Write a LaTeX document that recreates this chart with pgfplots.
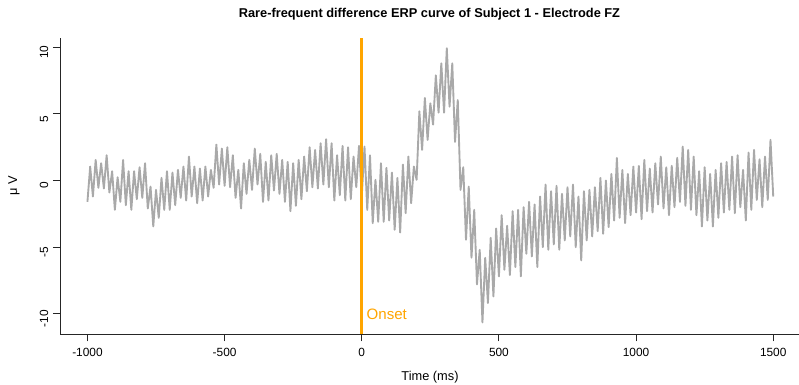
\documentclass[border=0pt]{standalone}
\usepackage{pgfplots}
\pgfplotsset{compat=1.18}
\usepackage{fontspec}
\setmainfont{Liberation Sans}
\definecolor{rgray}{HTML}{A9A9A9}
\definecolor{rorange}{HTML}{FFA500}
\definecolor{axcol}{HTML}{262626}

\begin{document}
\begin{tikzpicture}
\begin{axis}[
  at={(45pt,38pt)}, anchor=south west,
  scale only axis, width=555.5pt, height=222pt,
  xmin=-1100, xmax=1600, ymin=-11.55, ymax=10.68,
  axis x line*=bottom, axis y line*=left,
  axis line style={axcol, line width=0.75pt, -},
  xtick={-1000,-500,0,500,1000,1500},
  xticklabels={-1000,-500,0,500,1000,1500},
  ytick={-10,-5,0,5,10},
  yticklabels={-10,-5,0,5,10},
  tick align=outside, major tick length=5.25pt,
  tick style={axcol, line width=0.75pt},
  tick label style={font=\fontsize{8.9}{10}\selectfont, text=black},
  yticklabel style={rotate=90, anchor=south, xshift=-3.75pt},
  xticklabel style={yshift=-2pt},
  clip=false,
]
\addplot[rgray, line width=1.4pt, line join=round] table {
t v
-1000 -1.6
-990 1.05
-980 -1.2
-970 1.55
-960 -0.55
-950 1.3
-940 -0.6
-930 1.9
-920 -0.9
-910 0.7
-900 -2.2
-890 0.25
-880 -1.6
-870 1.55
-860 -1.85
-850 0.7
-840 -2.2
-830 0.7
-820 -1.4
-810 1.0
-800 -1.3
-790 1.3
-780 -2.1
-770 -0.45
-760 -3.45
-750 -0.7
-740 -2.8
-730 0.2
-720 -2.2
-710 0.7
-700 -2.2
-690 0.6
-680 -1.85
-670 0.8
-660 -1.3
-650 1.05
-640 -1.5
-630 1.8
-620 -1.2
-610 1.05
-600 -1.7
-590 0.9
-580 -1.5
-570 1.05
-560 -1.2
-550 0.8
-540 -0.55
-530 2.7
-520 -0.3
-510 2.4
-500 -0.4
-490 2.5
-480 -0.5
-470 1.9
-460 -1.3
-450 0.8
-440 -2.1
-430 1.3
-420 -1.0
-410 1.55
-400 -0.7
-390 2.4
-380 -0.3
-370 2.0
-360 -1.6
-350 1.4
-340 -1.5
-330 1.9
-320 -0.75
-310 2.0
-300 -1.0
-290 1.55
-280 -1.6
-270 1.4
-260 -2.3
-250 1.3
-240 -1.9
-230 1.55
-220 -1.4
-210 1.8
-200 -0.8
-190 2.5
-180 -0.5
-170 2.3
-160 -0.6
-150 2.8
-140 -0.3
-130 3.1
-120 -0.5
-110 2.8
-100 -1.5
-90 1.9
-80 -1.1
-70 2.6
-60 -1.5
-50 2.5
-40 -1.4
-30 1.8
-20 -0.5
-10 2.6
0 -1.2
10 2.55
20 -2.2
30 1.9
40 -3.2
50 0.05
60 -3.1
70 1.3
80 -3.1
90 0.95
100 -3.0
110 0.6
120 -3.7
130 0.2
140 -3.9
150 1.2
160 -2.45
170 1.8
180 -1.7
190 1.05
200 0.05
210 5.2
220 2.3
230 6.2
240 3.05
250 5.8
260 4.2
270 7.9
280 5.1
290 8.8
300 5.1
310 9.94
320 5.55
330 8.8
340 2.9
350 6.05
360 -0.7
370 1.0
380 -4.45
390 -0.45
400 -5.8
410 -2.2
420 -7.8
430 -5.2
440 -10.66
450 -5.8
460 -9.2
470 -4.3
480 -8.7
490 -3.6
500 -7.2
510 -2.6
520 -6.7
530 -3.4
540 -7.1
550 -2.3
560 -6.5
570 -2.2
580 -7.2
590 -2.0
600 -5.5
610 -1.6
620 -5.7
630 -1.8
640 -6.5
650 -1.2
660 -5.0
670 -0.3
680 -5.2
690 -0.8
700 -4.8
710 -0.4
720 -5.2
730 -1.0
740 -4.5
750 -0.5
760 -4.2
770 -0.3
780 -5.0
790 -1.2
800 -6.0
810 -0.8
820 -4.5
830 -0.7
840 -4.2
850 -0.5
860 -3.8
870 0.2
880 -4.0
890 0.0
900 -3.5
910 0.5
920 -3.0
930 1.7
940 -2.8
950 0.8
960 -3.2
970 0.5
980 -2.6
990 1.05
1000 -2.4
1010 1.1
1020 -2.9
1030 1.55
1040 -2.3
1050 0.9
1060 -2.4
1070 1.3
1080 -1.8
1090 1.8
1100 -2.1
1110 1.0
1120 -2.6
1130 1.1
1140 -2.0
1150 1.7
1160 -1.6
1170 2.55
1180 -1.9
1190 2.3
1200 -2.2
1210 1.8
1220 -2.6
1230 0.7
1240 -3.45
1250 1.0
1260 -3.0
1270 0.5
1280 -3.45
1290 0.8
1300 -2.8
1310 1.3
1320 -2.4
1330 1.4
1340 -2.2
1350 1.8
1360 -2.45
1370 1.9
1380 -2.0
1390 0.8
1400 -3.0
1410 2.1
1420 -2.2
1430 2.3
1440 -1.45
1450 1.6
1460 -2.0
1470 1.8
1480 -1.45
1490 3.05
1500 -1.2
};
\addplot[rorange, line width=2.25pt] coordinates {(0,-11.55) (0,10.68)};
\node[anchor=west, text=rorange, font=\fontsize{11.3}{13}\selectfont, inner sep=0pt] at (axis cs:17,-10.08) {Onset};
\end{axis}
\node[font=\bfseries\fontsize{9.6}{11}\selectfont] at (322.1pt,278.3pt) {Rare-frequent difference ERP curve of Subject 1 - Electrode FZ};
\node[font=\fontsize{9.6}{11}\selectfont] at (322.5pt,6.2pt) {Time (ms)};
\node[font=\fontsize{9.6}{11}\selectfont, rotate=90] at (10.5pt,149.6pt) {μ V};
\pgfresetboundingbox
\path (0,0) rectangle (599.25pt,288.75pt);
\end{tikzpicture}
\end{document}
